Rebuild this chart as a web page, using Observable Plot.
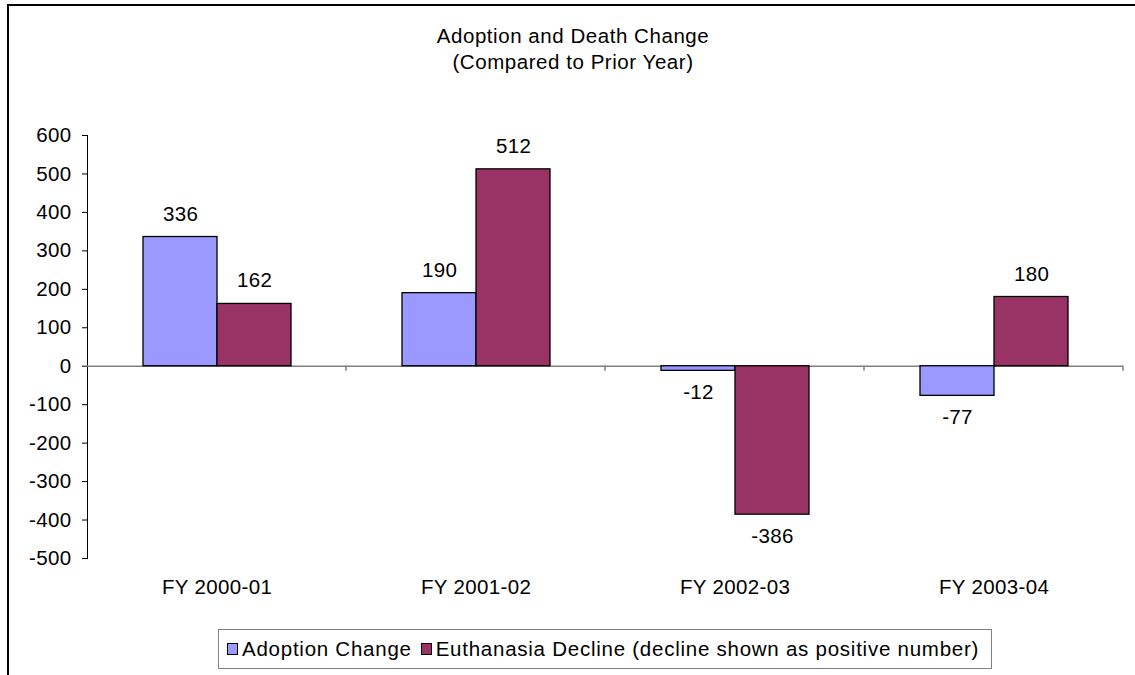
<!DOCTYPE html>
<html><head><meta charset="utf-8">
<script src="https://cdn.jsdelivr.net/npm/d3@7"></script>
<script src="https://cdn.jsdelivr.net/npm/@observablehq/plot@0.6"></script>
<style>
body{margin:0;background:#fff;font-family:"Liberation Sans",Arial,sans-serif;}
#wrap{position:relative;width:1135px;height:675px;overflow:hidden;background:#fff;}
#frame{position:absolute;left:7px;top:4px;width:1200px;height:700px;border-left:2px solid #000;border-top:2px solid #000;}
#title{position:absolute;left:0;top:23px;width:1146px;text-align:center;font-size:20.5px;letter-spacing:0.55px;line-height:26px;color:#000;}
#chart{position:absolute;left:0;top:0;}
#legend{position:absolute;left:218px;top:629px;width:772px;height:38px;border:1px solid #808080;display:flex;align-items:center;justify-content:flex-start;padding-left:0;box-sizing:content-box;font-size:20.5px;letter-spacing:0.75px;color:#000;white-space:nowrap;}
#legend .sw{display:inline-block;width:9px;height:10px;border:1.5px solid #000;margin-right:4px;}
#legend .item{display:flex;align-items:center;margin-left:8px;}
#legend .item + .item{margin-left:9px;}
</style></head>
<body>
<div id="wrap">
  <div id="frame"></div>
  <div id="title">Adoption and Death Change<br>(Compared to Prior Year)</div>
  <div id="chart"></div>
  <div id="legend"></div>
</div>
<script>
const categories = ["FY 2000-01", "FY 2001-02", "FY 2002-03", "FY 2003-04"];
const seriesNames = ["Adoption Change", "Euthanasia Decline (decline shown as positive number)"];
const adoptionChange = [336, 190, -12, -77];
const euthanasiaDecline = [162, 512, -386, 180];
const seriesColors = ["#9999FF", "#993366"];
const yTicks = [-500, -400, -300, -200, -100, 0, 100, 200, 300, 400, 500, 600];

const rows = [];
categories.forEach((c, i) => {
  rows.push({category: c, series: seriesNames[0], value: adoptionChange[i]});
  rows.push({category: c, series: seriesNames[1], value: euthanasiaDecline[i]});
});

const plot = Plot.plot({
  width: 1135,
  height: 610,
  marginTop: 135,
  marginBottom: 52,
  marginLeft: 87,
  marginRight: 12,
  style: {fontFamily: "'Liberation Sans', Arial, sans-serif", fontSize: "20.5px", letterSpacing: "0.35px", color: "#000", background: "transparent", overflow: "visible"},
  fx: {domain: categories, padding: 0, label: null, axis: "bottom", tickSize: 0, tickPadding: 21},
  x: {domain: seriesNames, axis: null, paddingInner: 0, paddingOuter: 0.75},
  y: {domain: [-500, 600], ticks: yTicks, tickSize: 5, tickPadding: 11, tickFormat: d => String(d), label: null, line: true},
  color: {domain: seriesNames, range: seriesColors},
  marks: [
    Plot.ruleY([0], {stroke: "#808080", strokeWidth: 1.5}),
    Plot.barY(rows, {fx: "category", x: "series", y: "value", fill: "series", stroke: "#000", strokeWidth: 1.3}),
    Plot.text(rows.filter(d => d.value >= 0), {fx: "category", x: "series", y: "value", text: d => String(d.value), dy: -23, fontSize: 20.5, fill: "#000"}),
    Plot.text(rows.filter(d => d.value < 0), {fx: "category", x: "series", y: "value", text: d => String(d.value), dy: 22, fontSize: 20.5, fill: "#000"})
  ]
});
document.getElementById("chart").appendChild(plot);

// category boundary tick marks on the zero line, positioned from the library's scales
const fxs = plot.scale("fx");
const ys = plot.scale("y");
const y0 = ys.apply(0);
const bw = fxs.bandwidth;
const sel = d3.select(plot);
categories.forEach(c => {
  const xr = fxs.apply(c) + bw;
  sel.append("line").attr("x1", xr).attr("x2", xr).attr("y1", y0).attr("y2", y0 + 5)
    .attr("stroke", "#808080").attr("stroke-width", 1.5);
});

// legend
const lg = document.getElementById("legend");
seriesNames.forEach((s, i) => {
  const it = document.createElement("span");
  it.className = "item";
  const sw = document.createElement("span");
  sw.className = "sw";
  sw.style.background = seriesColors[i];
  it.appendChild(sw);
  it.appendChild(document.createTextNode(s));
  lg.appendChild(it);
});
</script>
</body></html>
